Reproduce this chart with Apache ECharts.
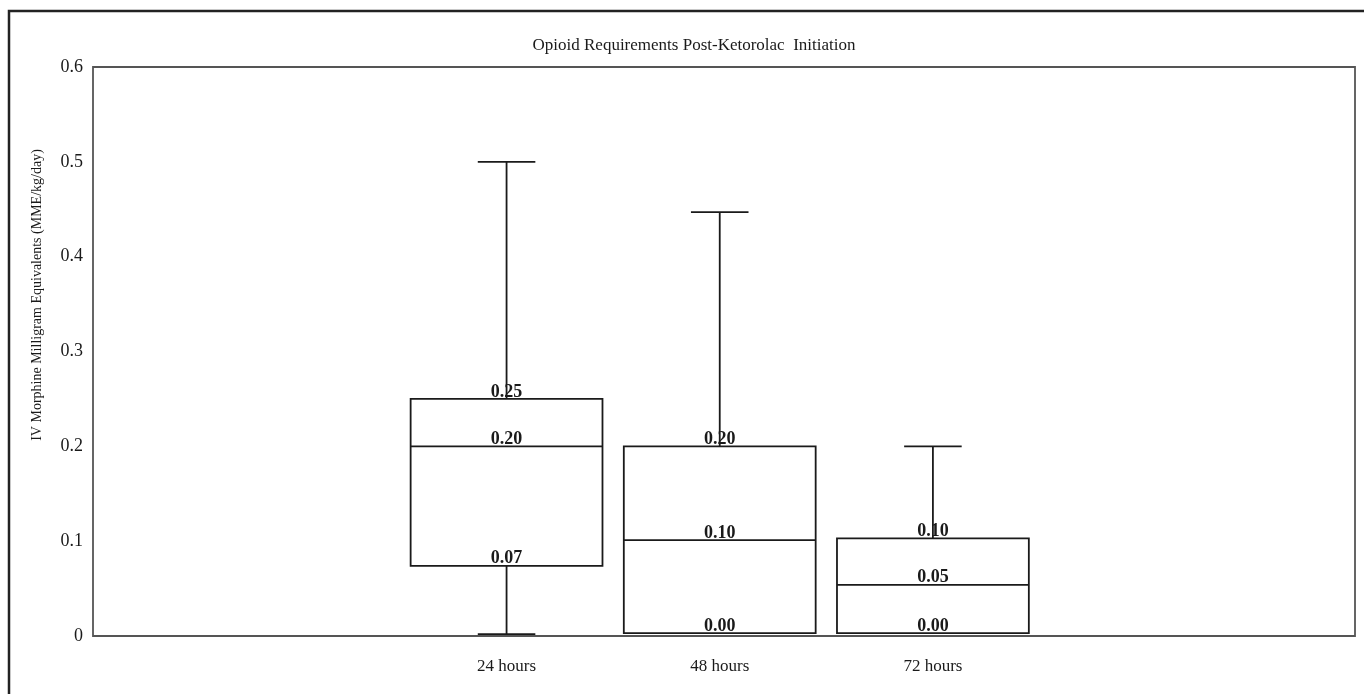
<!DOCTYPE html>
<html>
<head>
<meta charset="utf-8">
<script src="https://cdn.jsdelivr.net/npm/echarts@6/dist/echarts.min.js"></script>
<style>
  html, body { margin: 0; padding: 0; background: #fff; }
  #chart { width: 1364px; height: 694px; }
</style>
</head>
<body>
<div id="chart"></div>
<script>
// données
const categories = ['24 hours', '48 hours', '72 hours'];
const positions = [2, 3, 4];
const mins = [0.002, 0.003, 0.003];
const q1 = [0.074, 0.003, 0.003];
const medians = [0.2, 0.101, 0.054];
const q3 = [0.25, 0.2, 0.103];
const maxs = [0.5, 0.447, 0.2];

const FONT = '"Liberation Serif", "Times New Roman", serif';
const INK = '#1a1a1a';

let seriesData = positions.map((p, i) => [p, mins[i], q1[i], medians[i], q3[i], maxs[i]]);

function renderBox(params, api) {
    const x = api.value(0);
    const cx = api.coord([x, 0])[0];
    const yMin = api.coord([x, api.value(1)])[1];
    const yQ1 = api.coord([x, api.value(2)])[1];
    const yMed = api.coord([x, api.value(3)])[1];
    const yQ3 = api.coord([x, api.value(4)])[1];
    const yMax = api.coord([x, api.value(5)])[1];
    const band = api.size([1, 0])[0];
    const bw = band * 0.9;
    const cw = band * 0.27;
    const lineStyle = { stroke: INK, lineWidth: 1.8, fill: null };

    function label(y, v) {
        return {
            type: 'text', x: cx, y: y + 2, z2: 10,
            style: {
                text: v.toFixed(2), fill: INK, align: 'center', verticalAlign: 'bottom',
                font: 'bold 18px ' + FONT
            }
        };
    }

    return {
        type: 'group',
        children: [
            { type: 'line', shape: { x1: cx, y1: yQ3, x2: cx, y2: yMax }, style: lineStyle },
            { type: 'line', shape: { x1: cx - cw / 2, y1: yMax, x2: cx + cw / 2, y2: yMax }, style: lineStyle },
            { type: 'line', shape: { x1: cx, y1: yQ1, x2: cx, y2: yMin }, style: lineStyle },
            { type: 'line', shape: { x1: cx - cw / 2, y1: yMin, x2: cx + cw / 2, y2: yMin }, style: lineStyle },
            { type: 'rect', shape: { x: cx - bw / 2, y: yQ3, width: bw, height: yQ1 - yQ3 }, style: { stroke: INK, lineWidth: 1.8, fill: '#fff' } },
            { type: 'line', shape: { x1: cx - bw / 2, y1: yMed, x2: cx + bw / 2, y2: yMed }, style: lineStyle },
            label(yQ3, api.value(4)),
            label(yMed, api.value(3)),
            label(yQ1, api.value(2))
        ]
    };
}

let chart = echarts.init(document.getElementById('chart'));

let option = {
    animation: false,
    backgroundColor: '#fff',
    title: {
        text: 'Opioid Requirements Post-Ketorolac  Initiation',
        left: 689,
        textAlign: 'center',
        top: 32,
        textStyle: { fontFamily: FONT, fontWeight: 'normal', fontSize: 17, color: INK }
    },
    graphic: [
        {
            type: 'rect',
            shape: { x: 9, y: 11, width: 1500, height: 900 },
            style: { fill: null, stroke: '#222', lineWidth: 2.5 },
            silent: true
        },
        {
            type: 'text',
            x: 37, y: 295, rotation: Math.PI / 2,
            style: {
                text: 'IV Morphine Milligram Equivalents (MME/kg/day)',
                fill: INK, align: 'center', verticalAlign: 'middle',
                font: '14px ' + FONT
            }
        }
    ],
    grid: {
        left: 93, right: 9, top: 67, bottom: 58,
        show: true, borderColor: '#555', borderWidth: 1.8, backgroundColor: '#fff'
    },
    xAxis: {
        type: 'value',
        min: 0.06,
        max: 5.98,
        axisLine: { show: false },
        axisTick: { show: false },
        splitLine: { show: false },
        axisLabel: {
            customValues: positions,
            margin: 22,
            fontFamily: FONT, fontSize: 17, color: INK,
            formatter: v => categories[positions.indexOf(v)] || ''
        }
    },
    yAxis: {
        type: 'value',
        min: 0,
        max: 0.6,
        interval: 0.1,
        axisLine: { show: false },
        axisTick: { show: false },
        splitLine: { show: false },
        axisLabel: {
            margin: 10,
            fontFamily: FONT, fontSize: 18, color: INK,
            formatter: v => (v === 0 ? '0' : v.toFixed(1))
        }
    },
    series: [{
        type: 'custom',
        clip: false,
        renderItem: renderBox,
        encode: { x: 0, y: [1, 2, 3, 4, 5] },
        data: seriesData
    }]
};

chart.setOption(option);
</script>
</body>
</html>
